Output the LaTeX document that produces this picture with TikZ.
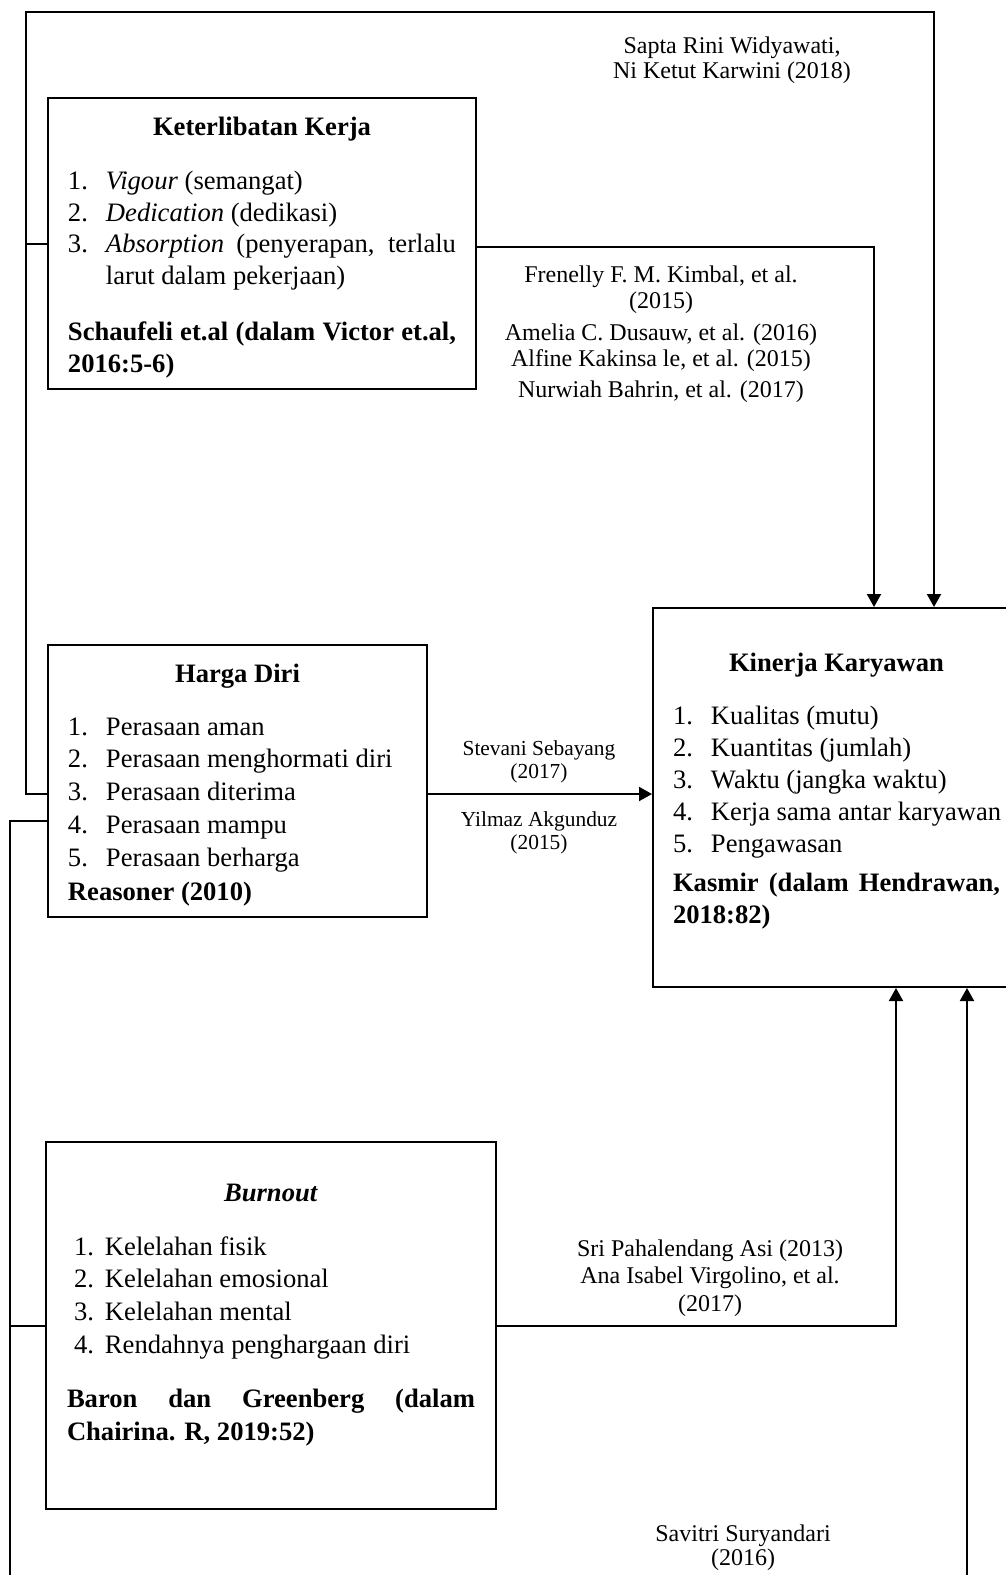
\documentclass[tikz,border=0pt]{standalone}
\usepackage{fontspec}
\setmainfont{Liberation Serif}
\usepackage{tikz}
\usetikzlibrary{arrows.meta,positioning,calc}

\newcommand{\butir}[2]{\par\hangindent=19pt\hangafter=1\noindent\makebox[19pt][l]{#1}#2\par}

\begin{document}
\begin{tikzpicture}[x=0.5pt, y=-0.5pt,
    kotak/.style={draw, line width=1pt, anchor=north west, inner xsep=10pt, inner ysep=0pt},
    ket/.style={align=center, inner sep=0pt, font=\fontsize{12}{13.8}\selectfont},
    ketkecil/.style={align=center, inner sep=0pt, font=\fontsize{10.7}{11.6}\selectfont},
    garis/.style={line width=1pt},
    panah/.style={line width=1pt, -{Triangle[length=6.5pt,width=7pt]}}]

        \path[fill=white, use as bounding box] (0,0) rectangle (1006,1575);

        \node[kotak] (kerja) at (47,97) {\parbox[c][145.5pt][t]{194pt}{\fontsize{13.3}{15.75}\selectfont\parskip=0pt\hyphenpenalty=10000
            {\centering\rule{0pt}{18.5pt}\textbf{Keterlibatan Kerja}\par}
            \vspace{11.6pt}
            \butir{1.}{\textit{Vigour} (semangat)}
            \butir{2.}{\textit{Dedication} (dedikasi)}
            \butir{3.}{\textit{Absorption} (penyerapan, terlalu\linebreak larut dalam pekerjaan)}
            \vspace{12.6pt}
            \noindent\textbf{Schaufeli et.al (dalam Victor et.al,\linebreak 2016:5-6)}\par}};

        \node[kotak] (harga) at (47,644) {\parbox[c][136pt][t]{169.5pt}{\fontsize{13.3}{16.4}\selectfont\parskip=0pt\hyphenpenalty=10000
            {\centering\rule{0pt}{18.5pt}\textbf{Harga Diri}\par}
            \vspace{10.1pt}
            \butir{1.}{Perasaan aman}
            \butir{2.}{Perasaan menghormati diri}
            \butir{3.}{Perasaan diterima}
            \butir{4.}{Perasaan mampu}
            \butir{5.}{Perasaan berharga}
            \vspace{0.6pt}
            \noindent\textbf{Reasoner (2010)}\par}};

        \node[kotak] (kinerja) at (652,607) {\parbox[c][189.5pt][t]{163.5pt}{\fontsize{13.3}{16.1}\selectfont\parskip=0pt\hyphenpenalty=10000
            {\centering\rule{0pt}{31.5pt}\textbf{Kinerja Karyawan}\par}
            \vspace{10.4pt}
            \butir{1.}{Kualitas (mutu)}
            \butir{2.}{Kuantitas (jumlah)}
            \butir{3.}{Waktu (jangka waktu)}
            \butir{4.}{\mbox{Kerja sama antar karyawan}}
            \butir{5.}{Pengawasan}
            \vspace{3pt}
            \noindent\textbf{Kasmir (dalam Hendrawan,\linebreak 2018:82)}\par}};

        \node[kotak, inner xsep=10.5pt] (burnout) at (45,1141) {\parbox[c][183.5pt][t]{204pt}{\fontsize{13.3}{16.35}\selectfont\parskip=0pt\hyphenpenalty=10000
            {\centering\rule{0pt}{29.5pt}\textbf{\textit{Burnout}}\par}
            \vspace{10.65pt}
            \butir{\hspace{3.5pt}1.}{Kelelahan fisik}
            \butir{\hspace{3.5pt}2.}{Kelelahan emosional}
            \butir{\hspace{3.5pt}3.}{Kelelahan mental}
            \butir{\hspace{3.5pt}4.}{Rendahnya penghargaan diri}
            {\baselineskip=16.5pt
            \vspace{10.6pt}
            \noindent\textbf{Baron dan Greenberg (dalam\linebreak Chairina. R, 2019:52)}\par}}};

        \node[ket, font=\fontsize{12}{12.6}\selectfont] (sapta) at (732,60.5) {Sapta Rini Widyawati,\\Ni Ketut Karwini (2018)};
        \node[ket, font=\fontsize{12}{13}\selectfont] (frenelly) at (661,334) {Frenelly F. M. Kimbal, et al.\\(2015)\\[3pt]Amelia C. Dusauw, et al. (2016)\\Alfine Kakinsa le, et al. (2015)\\[2.5pt]Nurwiah Bahrin, et al. (2017)};
        \node[ketkecil] (stevani) at (539,762) {Stevani Sebayang\\(2017)};
        \node[ketkecil] (yilmaz) at (539,833) {Yilmaz Akgunduz\\(2015)};
        \node[ket] (sri) at (710,1278) {Sri Pahalendang Asi (2013)\\Ana Isabel Virgolino, et al.\\(2017)};
        \node[ket, font=\fontsize{12}{12}\selectfont] (savitri) at (743,1548) {Savitri Suryandari\\(2016)};

        \coordinate (kiri1) at (26,12);
        \coordinate (kanan1) at (934,12);
        \coordinate (atas2) at (874,0);
        \coordinate (kiri2) at (10,1600);
        \coordinate (kanan2) at (967,1600);
        \coordinate (bawah2) at (896,1600);

        \draw[panah] ([yshift=-6.5pt]harga.west) -| (kiri1) -- (kanan1) -- (kanan1 |- kinerja.north);
        \draw[garis] (kerja.west) -- (kerja.west -| kiri1);
        \draw[panah] ([yshift=-1.5pt]kerja.east) -| (atas2 |- kinerja.north);
        \draw[panah] ([yshift=-6.5pt]harga.east) -- ([yshift=-6.5pt]harga.east -| kinerja.west);
        \draw[panah] ([yshift=-20pt]harga.west) -| (kiri2) -- (kanan2) -- (kanan2 |- kinerja.south);
        \draw[garis] (burnout.west) -- (burnout.west -| kiri2);
        \draw[panah] (burnout.east) -| (bawah2 |- kinerja.south);
      \end{tikzpicture}
\end{document}
